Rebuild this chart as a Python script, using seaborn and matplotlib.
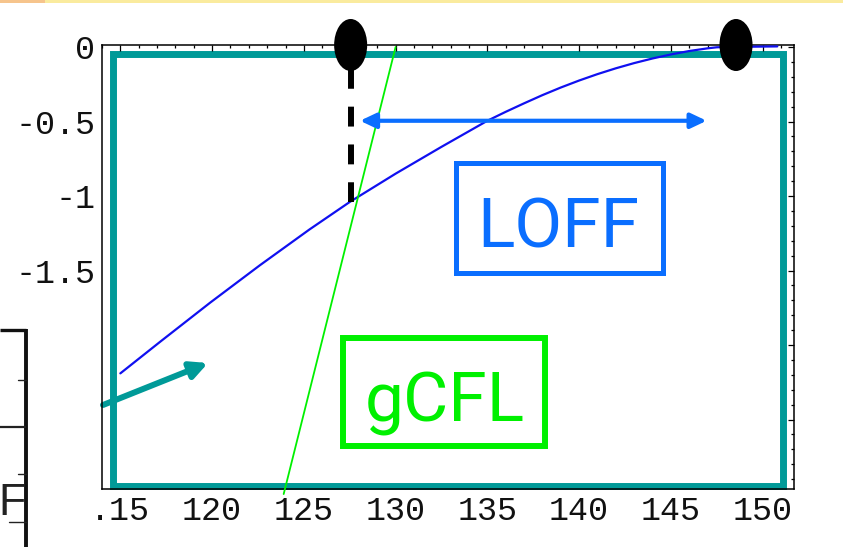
import matplotlib
matplotlib.use("Agg")
import matplotlib.pyplot as plt
import seaborn as sns
import pandas as pd
from matplotlib.patches import Rectangle, Ellipse
from matplotlib.ticker import MultipleLocator, FixedLocator, FixedFormatter

# ---- data ----
loff_x = [115.0, 117.2, 119.9, 122.6, 125.3, 127.5, 130.0, 132.5, 135.0, 136.0,
          137.0, 138.0, 139.0, 140.0, 141.0, 142.0, 143.0, 144.0, 145.0, 146.0,
          147.0, 147.5, 148.0, 150.8]
loff_y = [-2.19, -1.975, -1.715, -1.465, -1.225, -1.04, -0.85, -0.67, -0.495, -0.435,
          -0.378, -0.323, -0.272, -0.225, -0.182, -0.143, -0.108, -0.077, -0.05, -0.027,
          -0.009, -0.002, 0.0, 0.004]
gcfl_x = [123.9, 130.0]
gcfl_y = [-3.0, 0.0]
window_x = [127.55, 148.55]      # black markers on the top edge
arrow_x = [128.06, 146.95]       # blue double arrow
arrow_y = -0.495
cross_y = -1.04                  # blue/green crossing level
xticks = [115, 120, 125, 130, 135, 140, 145, 150]
xticklabels = [".15", "120", "125", "130", "135", "140", "145", "150"]
yticks = [0, -0.5, -1, -1.5, -2, -2.5]
yticklabels = ["0", "-0.5", "-1", "-1.5", "", ""]

sns.set_style("white")
plt.rcParams["font.family"] = ["DejaVu Sans"]

W, H = 843, 547
fig = plt.figure(figsize=(W / 100, H / 100), dpi=100, facecolor="white")

# overlay in pixel coordinates for slide decorations
ov = fig.add_axes([0, 0, 1, 1], facecolor="none", zorder=1)
ov.set_xlim(0, W)
ov.set_ylim(H, 0)
ov.axis("off")

ax = fig.add_axes([102 / W, 1 - 489 / H, 692 / W, 444 / H], zorder=2)
ax.set_facecolor("none")

teal = "#009A98"
lblue = "#0A6EFF"
green = "#00F000"

# ---- main curves ----
df_loff = pd.DataFrame({"x": loff_x, "y": loff_y})
df_gcfl = pd.DataFrame({"x": gcfl_x, "y": gcfl_y})
sns.lineplot(data=df_loff, x="x", y="y", ax=ax, color="#1010F0", lw=1.6, zorder=5)
sns.lineplot(data=df_gcfl, x="x", y="y", ax=ax, color=green, lw=1.3, zorder=5)
for l in ax.get_lines():
    l.set_clip_on(False)
    l.set_solid_joinstyle("round")

ax.set_xlim(114.0, 151.71)
ax.set_ylim(-2.966, 0.0134)
ax.set_xlabel("")
ax.set_ylabel("")

ax.xaxis.set_major_locator(FixedLocator(xticks))
ax.xaxis.set_major_formatter(FixedFormatter(xticklabels))
ax.xaxis.set_minor_locator(MultipleLocator(1))
ax.yaxis.set_major_locator(FixedLocator(yticks))
ax.yaxis.set_major_formatter(FixedFormatter(yticklabels))
ax.yaxis.set_minor_locator(MultipleLocator(0.1))
ax.tick_params(which="both", direction="in", top=True, right=True,
               color="black", width=0.9)
ax.tick_params(which="major", length=4.5, labelsize=24, pad=5)
ax.tick_params(which="minor", length=2.5)
for lab in ax.get_xticklabels() + ax.get_yticklabels():
    lab.set_family(["Liberation Mono", "DejaVu Sans Mono"])
    lab.set_color("#111111")
for s in ax.spines.values():
    s.set_color("black")
    s.set_linewidth(1.1)

# dashed vertical line at the crossing
ax.plot([window_x[0], window_x[0]], [0.0, cross_y], color="black", lw=4.3,
        linestyle=(2.67, (3.33, 3.0)), solid_capstyle="butt", zorder=6,
        clip_on=False)

# blue double arrow (LOFF window)
ax.annotate("", xy=(arrow_x[1], arrow_y), xytext=(arrow_x[0], arrow_y),
            arrowprops=dict(arrowstyle="<|-|>,head_length=0.95,head_width=0.45",
                            mutation_scale=10, color=lblue, lw=3,
                            shrinkA=0, shrinkB=0), zorder=6)

# black ellipses on the top edge
for xm in window_x:
    ax.add_patch(Ellipse((xm, 0.0134), width=1.80, height=0.349,
                         facecolor="black", edgecolor="none",
                         clip_on=False, zorder=8))

# ---- overlay decorations (pixel coords) ----
ov.add_patch(Rectangle((112.5, 53.5), 783 - 112.5, 485.5 - 53.5, fill=False,
                       edgecolor=teal, lw=5.0))
ov.annotate("", xy=(208, 363), xytext=(103, 405),
            arrowprops=dict(arrowstyle="-|>,head_length=1.0,head_width=0.5",
                            mutation_scale=10, color=teal, lw=4.3,
                            shrinkA=0, shrinkB=0))

# LOFF box
ov.add_patch(Rectangle((455.5, 162.5), 207, 110, fill=False,
                       edgecolor=lblue, lw=3.6))
ov.text(558, 247, "LOFF", color=lblue, fontsize=50, ha="center", va="baseline",
        family=["Roboto", "DejaVu Sans"])
# gCFL box
ov.add_patch(Rectangle((343, 338), 202, 108, fill=False,
                       edgecolor=green, lw=4.3))
ov.text(445, 422, "gCFL", color=green, fontsize=50, ha="center", va="baseline",
        family=["Roboto", "DejaVu Sans"])

# slide remnants: top strip and partial box at lower left
ov.add_patch(Rectangle((0, 0), W, 3, facecolor="#FAEB9E", edgecolor="none"))
ov.add_patch(Rectangle((0, 0), 45, 3, facecolor="#F6C48C", edgecolor="none"))
ov.plot([0, 26], [330, 330], color="#111111", lw=2.4, solid_capstyle="butt")
ov.plot([26, 26], [329, H], color="#111111", lw=2.8, solid_capstyle="butt")
ov.plot([0, 26], [427, 427], color="#222222", lw=1.6, solid_capstyle="butt")
for yy, x0 in [(380, 18), (474, 18), (522, 9)]:
    ov.plot([x0, 26], [yy, yy], color="#222222", lw=1.0)
ov.text(-2, 515, "F", color="#222222", fontsize=32, ha="left", va="baseline",
        family=["Liberation Sans", "DejaVu Sans"])

fig.savefig("out.png", dpi=100, facecolor="white")
